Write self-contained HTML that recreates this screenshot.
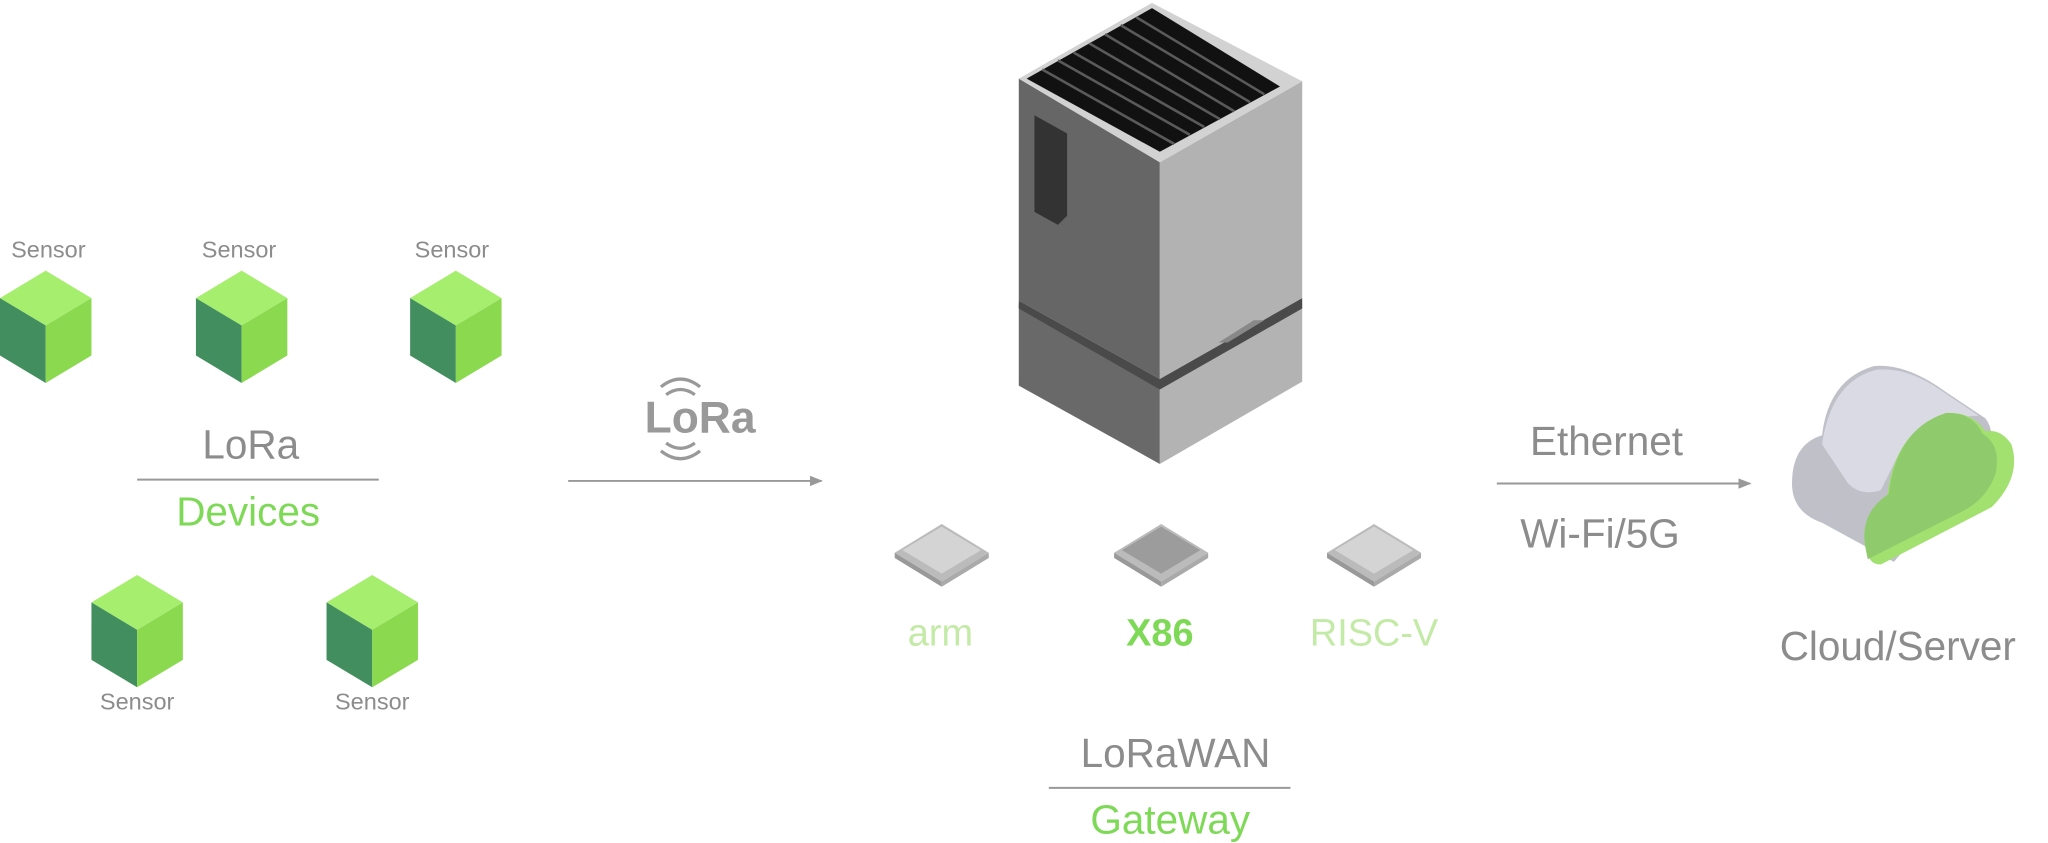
<!DOCTYPE html>
<html><head><meta charset="utf-8"><style>
html,body{margin:0;padding:0;background:#fff;}
svg{display:block}
text{font-family:"Liberation Sans",sans-serif;}
</style></head><body>
<svg width="2048" height="843" viewBox="0 0 1568 645" xmlns="http://www.w3.org/2000/svg">
<defs>
<g id="cube">
<polygon points="35,0 70,21 35,42 0,21" fill="#a6ee6e"/>
<polygon points="0,21 35,42 35,86 0,65" fill="#438e5e"/>
<polygon points="35,42 70,21 70,65 35,86" fill="#8ad94e"/>
</g>
<g id="chip">
<polygon points="0,8 36,-14 72,8 36,30" fill="#bbb"/>
<polygon points="0,8 36,30 36,34 0,12" fill="#999"/>
<polygon points="36,30 72,8 72,12 36,34" fill="#aaa"/>
<polygon points="6,6 36,-12 66,6 36,24" fill="var(--c)"/>
</g>
<marker id="ah" markerWidth="10" markerHeight="10" refX="9" refY="5" orient="auto" markerUnits="userSpaceOnUse"><path d="M0,1 L10,5 L0,9z" fill="#999"/></marker>
</defs>
<g fill="#8c8c8c" font-size="18" text-anchor="middle">
<text x="37" y="197">Sensor</text><text x="183" y="197">Sensor</text><text x="346" y="197">Sensor</text>
<text x="105" y="543">Sensor</text><text x="285" y="543">Sensor</text>
</g>
<use href="#cube" x="0" y="207"/><use href="#cube" x="150" y="207"/><use href="#cube" x="314" y="207"/>
<use href="#cube" x="70" y="440"/><use href="#cube" x="250" y="440"/>
<text x="192" y="351" font-size="31" fill="#8c8c8c" text-anchor="middle">LoRa</text>
<line x1="105" y1="367" x2="290" y2="367" stroke="#999" stroke-width="1.5"/>
<text x="190" y="402" font-size="31" fill="#7ed957" text-anchor="middle">Devices</text>
<line x1="435" y1="368" x2="629" y2="368" stroke="#999" stroke-width="1.5" marker-end="url(#ah)"/>
<text x="536" y="331" font-size="34" font-weight="bold" fill="#999" text-anchor="middle">LoRa</text>
<g fill="none" stroke="#999" stroke-width="2.5">
<path d="M506,296 Q521,284 536,296"/><path d="M510,302 Q521,294 532,302"/>
<path d="M506,345 Q521,357 536,345"/><path d="M510,339 Q521,347 532,339"/>
</g>
<!-- gateway -->
<polygon points="780,232 888,295 888,355 780,295" fill="#696969"/>
<polygon points="888,295 997,232 997,292 888,355" fill="#b3b3b3"/>
<polygon points="780,60 888,124 888,290 780,230" fill="#666"/>
<polygon points="888,124 997,62 997,228 888,290" fill="#b2b2b2"/>
<polygon points="780,230 888,290 997,228 997,236 888,298 780,236" fill="#4a4a4a"/>
<polygon points="933,262 960,245 968,245 940,262" fill="#888"/>
<polygon points="882,2 780,60 888,124 997,62" fill="#d2d2d2"/>
<polygon points="882,6 786,60 888,116 980,66" fill="#111"/>
<g stroke="#5a5a5a" stroke-width="2">
<line x1="798" y1="53" x2="899" y2="110"/><line x1="810" y1="46" x2="911" y2="103"/>
<line x1="822" y1="40" x2="922" y2="97"/><line x1="834" y1="33" x2="934" y2="91"/>
<line x1="846" y1="26" x2="945" y2="85"/><line x1="858" y1="19" x2="957" y2="78"/>
<line x1="870" y1="13" x2="968" y2="72"/>
</g>
<polygon points="792,88 817,102 817,165 810,172 792,162" fill="#333"/>
<!-- chips -->
<use href="#chip" x="685" y="415" style="--c:#d4d4d4"/>
<use href="#chip" x="853" y="415" style="--c:#9c9c9c"/>
<use href="#chip" x="1016" y="415" style="--c:#d4d4d4"/>
<g font-size="29" text-anchor="middle">
<text x="720" y="494" fill="#c3eaa6">arm</text>
<text x="888" y="494" fill="#7ed957" font-weight="bold">X86</text>
<text x="1052" y="494" fill="#c3eaa6">RISC-V</text>
</g>
<text x="900" y="587" font-size="31" fill="#8c8c8c" text-anchor="middle">LoRaWAN</text>
<line x1="803" y1="603" x2="988" y2="603" stroke="#999" stroke-width="1.5"/>
<text x="896" y="638" font-size="31" fill="#7ed957" text-anchor="middle">Gateway</text>
<text x="1230" y="348" font-size="31" fill="#8c8c8c" text-anchor="middle">Ethernet</text>
<line x1="1146" y1="370" x2="1340" y2="370" stroke="#999" stroke-width="1.5" marker-end="url(#ah)"/>
<text x="1225" y="419" font-size="31" fill="#8c8c8c" text-anchor="middle">Wi-Fi/5G</text>
<!-- cloud -->
<path d="M1372,370 Q1372,340 1395,333 Q1400,290 1435,280 Q1460,278 1490,300 L1520,320 Q1528,330 1522,345 L1450,430 L1395,400 Q1372,392 1372,370z" fill="#c0c0c9"/>
<path d="M1395,340 Q1402,292 1436,283 Q1460,280 1488,300 L1515,318 Q1470,320 1455,345 L1440,375 Q1425,380 1415,370z" fill="#d9dae3"/>
<path d="M1430,420 Q1425,395 1445,380 Q1450,330 1490,316 Q1510,315 1520,330 Q1532,328 1540,340 Q1548,365 1525,388 L1440,432 Q1430,432 1430,420z" fill="#a2e06f"/>
<path d="M1428,418 Q1424,392 1446,378 Q1452,328 1490,316 Q1510,315 1518,332 Q1532,340 1528,362 Q1522,380 1505,390 L1430,428z" fill="#8fcb6c"/>
<text x="1453" y="505" font-size="31" fill="#8c8c8c" text-anchor="middle">Cloud/Server</text>
</svg>
</body></html>
